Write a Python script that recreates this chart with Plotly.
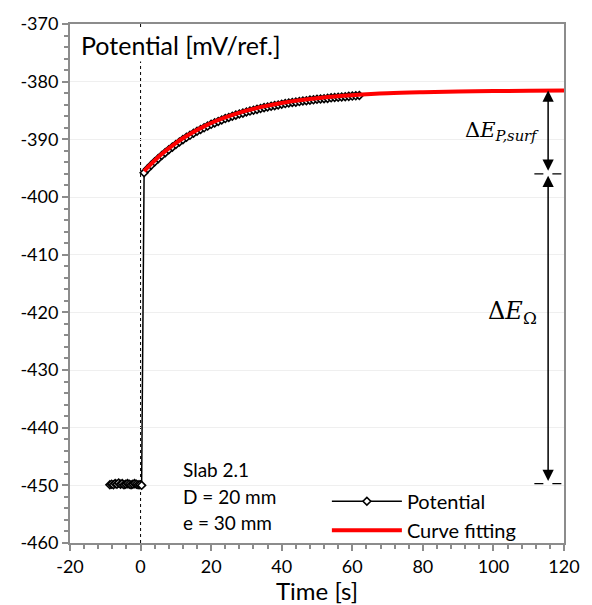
import plotly.graph_objects as go

# ---- data ----
pre_time = [-8.7, -8.2, -7.7, -7.2, -6.7, -6.2, -5.7, -5.2, -4.7, -4.2,
            -3.7, -3.2, -2.7, -2.2, -1.7, -1.2, -0.7, -0.2, 0.3]
pre_potential = [-449.9, -449.8, -449.9, -449.7, -449.8, -449.6, -449.8, -449.7, -449.9, -449.8,
                 -449.7, -449.8, -449.9, -449.8, -449.7, -449.8, -449.9, -449.9, -450.0]

post_time = [1, 2, 3, 4, 5, 6, 7, 8, 9, 10, 11, 12, 13, 14, 15, 16, 17, 18, 19, 20,
             21, 22, 23, 24, 25, 26, 27, 28, 29, 30, 31, 32, 33, 34, 35, 36, 37, 38, 39, 40,
             41, 42, 43, 44, 45, 46, 47, 48, 49, 50, 51, 52, 53, 54, 55, 56, 57, 58, 59, 60,
             61, 62]
post_potential = [-395.8, -395.1, -394.5, -393.9, -393.35, -392.8, -392.3, -391.8, -391.35, -390.9,
                  -390.45, -390.05, -389.65, -389.3, -388.95, -388.6, -388.3, -388.0, -387.7, -387.4,
                  -387.15, -386.9, -386.65, -386.4, -386.2, -386.0, -385.8, -385.6, -385.45, -385.25,
                  -385.1, -384.95, -384.8, -384.65, -384.5, -384.4, -384.25, -384.15, -384.05, -383.9,
                  -383.8, -383.7, -383.6, -383.55, -383.45, -383.35, -383.3, -383.2, -383.15, -383.05,
                  -383.0, -382.95, -382.9, -382.8, -382.75, -382.7, -382.65, -382.6, -382.55, -382.5,
                  -382.45, -382.4]

fit_time = [1, 2, 4, 6, 8, 10, 12, 15, 18, 21, 25, 30, 35, 40, 45, 50, 55, 60,
            70, 80, 90, 100, 110, 120]
fit_potential = [-395.53, -394.88, -393.67, -392.56, -391.56, -390.64, -389.81, -388.71, -387.75,
                 -386.91, -385.98, -385.03, -384.28, -383.69, -383.23, -382.86, -382.57, -382.35,
                 -382.02, -381.83, -381.70, -381.63, -381.58, -381.55]

time_all = pre_time + post_time
potential_all = pre_potential + post_potential

E_final = -381.55
E_after_jump = -396.0
E_before_jump = -449.7
arrow_time = 115.5
dash_start = 111.6

x_ticks = [-20, 0, 20, 40, 60, 80, 100, 120]
x_labels = ["-20", "0", "20", "40", "60", "80", "100", "120"]
y_ticks = [-460, -450, -440, -430, -420, -410, -400, -390, -380, -370]
y_labels = ["-460", "-450", "-440", "-430", "-420", "-410", "-400", "-390", "-380", "-370"]

FONT = "Lato"
AXIS_GRAY = "#8C8C8C"

fig = go.Figure()

fig.add_trace(go.Scatter(
    x=time_all, y=potential_all, name="Potential", mode="lines+markers",
    line=dict(color="black", width=1.5),
    marker=dict(symbol="diamond", size=6, color="white",
                line=dict(color="black", width=1.6)),
))
fig.add_trace(go.Scatter(
    x=fit_time, y=fit_potential, name="Curve fitting", mode="lines",
    line=dict(color="#FF0000", width=4, shape="spline"),
))

# vertical dotted line at t = 0
fig.add_shape(type="line", x0=0, x1=0, y0=-460, y1=-370, xref="x", yref="y",
              line=dict(color="black", width=1, dash="dot"), layer="below")
# dashed reference lines
for yv in [E_after_jump, E_before_jump]:
    fig.add_shape(type="line", x0=dash_start, x1=120, y0=yv, y1=yv, xref="x", yref="y",
                  line=dict(color="black", width=1.2, dash="dash"))

# double arrows
fig.add_annotation(x=arrow_time, y=E_final, ax=arrow_time, ay=E_after_jump + 0.3,
                   xref="x", yref="y", axref="x", ayref="y", text="",
                   showarrow=True, arrowside="end+start", arrowhead=2, startarrowhead=2,
                   arrowsize=1.5, startarrowsize=1.5, arrowwidth=1.5, arrowcolor="black")
fig.add_annotation(x=arrow_time, y=E_after_jump - 0.3, ax=arrow_time, ay=E_before_jump + 0.2,
                   xref="x", yref="y", axref="x", ayref="y", text="",
                   showarrow=True, arrowside="end+start", arrowhead=2, startarrowhead=2,
                   arrowsize=1.5, startarrowsize=1.5, arrowwidth=1.5, arrowcolor="black")

# labels
fig.add_annotation(x=-17.4, y=-373.6, xref="x", yref="y", xanchor="left", yanchor="middle",
                   text="Potential [mV/ref.]", showarrow=False, bgcolor="white",
                   font=dict(family=FONT, size=25, color="black"))
fig.add_annotation(x=113.6, y=-388.6, xref="x", yref="y", xanchor="right", yanchor="middle",
                   text="Δ<i>E</i><sub><i>P,surf</i></sub>", showarrow=False,
                   font=dict(family="DejaVu Serif", size=21, color="black"))
fig.add_annotation(x=113.0, y=-420.0, xref="x", yref="y", xanchor="right", yanchor="middle",
                   text="Δ<i>E</i><sub>Ω</sub>", showarrow=False,
                   font=dict(family="DejaVu Serif", size=24, color="black"))
for txt, yv in [("Slab 2.1", -447.3), ("D = 20 mm", -451.9), ("e = 30 mm", -456.4)]:
    fig.add_annotation(x=11.4, y=yv, xref="x", yref="y", xanchor="left", yanchor="middle",
                       text=txt, showarrow=False,
                       font=dict(family=FONT, size=19, color="black"))

fig.update_layout(
    width=592, height=605,
    margin=dict(l=70, r=19, t=23, b=62),
    paper_bgcolor="white", plot_bgcolor="white",
    font=dict(family=FONT, size=18, color="black"),
    showlegend=True,
    legend=dict(x=0.52, y=0.118, xanchor="left", yanchor="top",
                bgcolor="rgba(255,255,255,0)", itemwidth=70,
                font=dict(family=FONT, size=20), tracegroupgap=0),
    xaxis=dict(range=[-20, 120], tickvals=x_ticks, ticktext=x_labels,
               showgrid=False, zeroline=False, ticklabeloverflow="allow",
               showline=True, linecolor=AXIS_GRAY, linewidth=2, mirror=True,
               ticks="outside", ticklen=6, tickcolor=AXIS_GRAY, tickwidth=2,
               minor=dict(dtick=4, ticks="outside", ticklen=4, tickcolor=AXIS_GRAY, tickwidth=2,
                          showgrid=False),
               tickfont=dict(family=FONT, size=18),
               title=dict(text="Time [s]", font=dict(family=FONT, size=24), standoff=0)),
    yaxis=dict(range=[-460, -370], tickvals=y_ticks, ticktext=y_labels,
               showgrid=True, gridcolor="#EFEFEF", ticklabeloverflow="allow",
               gridwidth=1, zeroline=False,
               showline=True, linecolor=AXIS_GRAY, linewidth=2, mirror=True,
               ticks="outside", ticklen=6, tickcolor=AXIS_GRAY, tickwidth=2,
               minor=dict(dtick=2, ticks="outside", ticklen=4, tickcolor=AXIS_GRAY, tickwidth=2,
                          showgrid=False),
               tickfont=dict(family=FONT, size=18)),
)

fig.write_html("out.html", config={"displayModeBar": False},
               post_script="document.body.style.margin='0';document.body.style.overflow='hidden';")
